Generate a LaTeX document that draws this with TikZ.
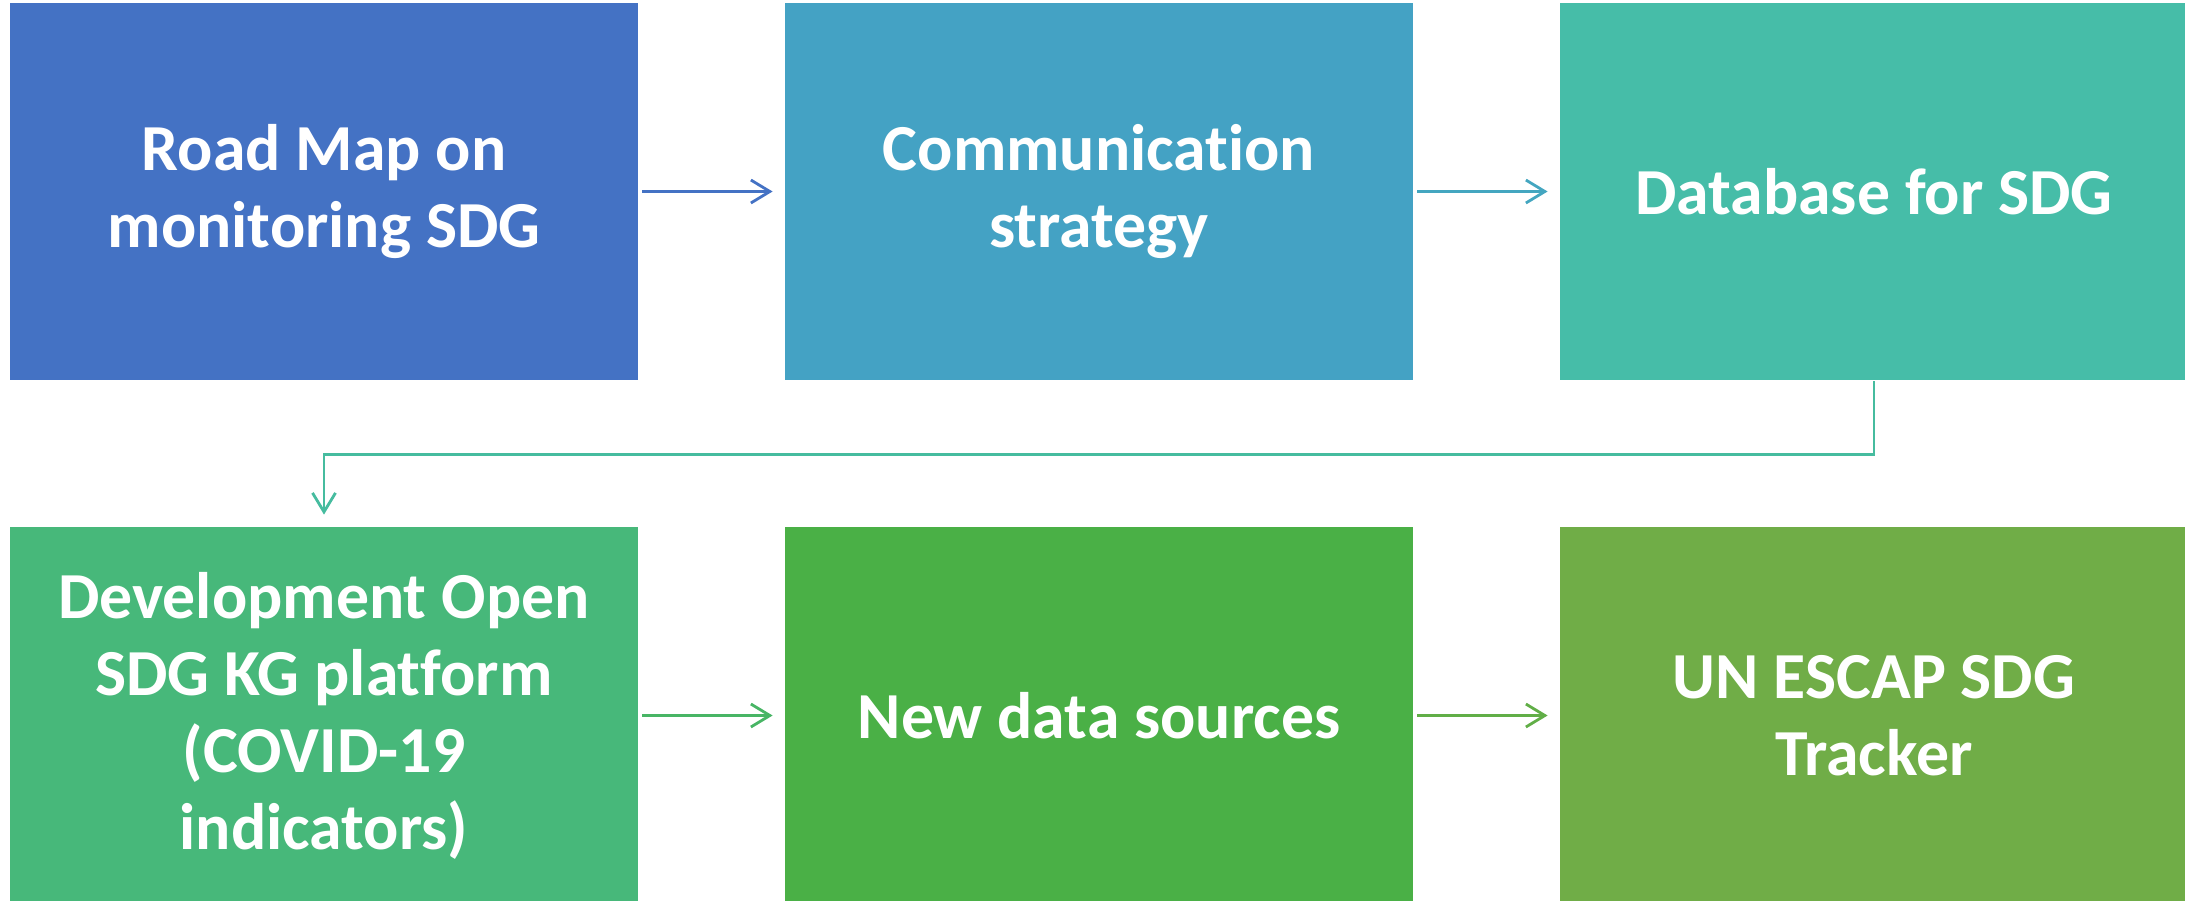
\documentclass[tikz,border=0pt]{standalone}
\usepackage{fontspec}
\setmainfont[Ligatures=NoCommon]{Carlito}
\usepackage{tikz}
\usetikzlibrary{arrows.meta,positioning}
\usepackage{xcolor}

\definecolor{cola}{HTML}{4472C4}
\definecolor{colb}{HTML}{44A2C4}
\definecolor{colc}{HTML}{46BDA8}
\definecolor{cold}{HTML}{47B87A}
\definecolor{cole}{HTML}{4AB046}
\definecolor{colf}{HTML}{70AD47}

\tikzset{
	block/.style={rectangle,inner sep=0pt,minimum width=6.28cm,minimum height=3.77cm,
		text=white,align=center,font=\fontsize{18.7}{21.9}\selectfont\bfseries}
}

\begin{document}
\begin{tikzpicture}[->,>={Straight Barb[length=1.9mm,width=2.3mm]},shorten >=1.1mm,shorten <=0.3mm,node distance=7.75cm,line width=0.8pt]
		\useasboundingbox (0,0) rectangle (21.85,-9);

		\node[block,fill=cola] (n1) at (3.24,-1.915) {Road Map on\\monitoring SDG};
		\node[block,fill=colb] (n2) [right of=n1] {Communication\\strategy};
		\node[block,fill=colc] (n3) [right of=n2] {Database for SDG};
		\node[block,fill=cold] (n4) [below of=n1,node distance=5.24cm] {Development Open\\SDG KG platform\\(COVID-19\\indicators)};
		\node[block,fill=cole] (n5) [right of=n4] {New data sources};
		\node[block,fill=colf] (n6) [right of=n5] {UN ESCAP SDG\\Tracker};

		\path[->] (n1) edge[cola] (n2);
		\path[->] (n2) edge[colb!85!colc] (n3);

		\draw[->,colc!80!cold,shorten <=0pt] (n3.south) -- ++(0,-0.73) -| (n4.north);

		\path[->] (n4) edge[cold!60!cole] (n5);
		\path[->] (n5) edge[cole!40!colf] (n6);
		\end{tikzpicture}
\end{document}
